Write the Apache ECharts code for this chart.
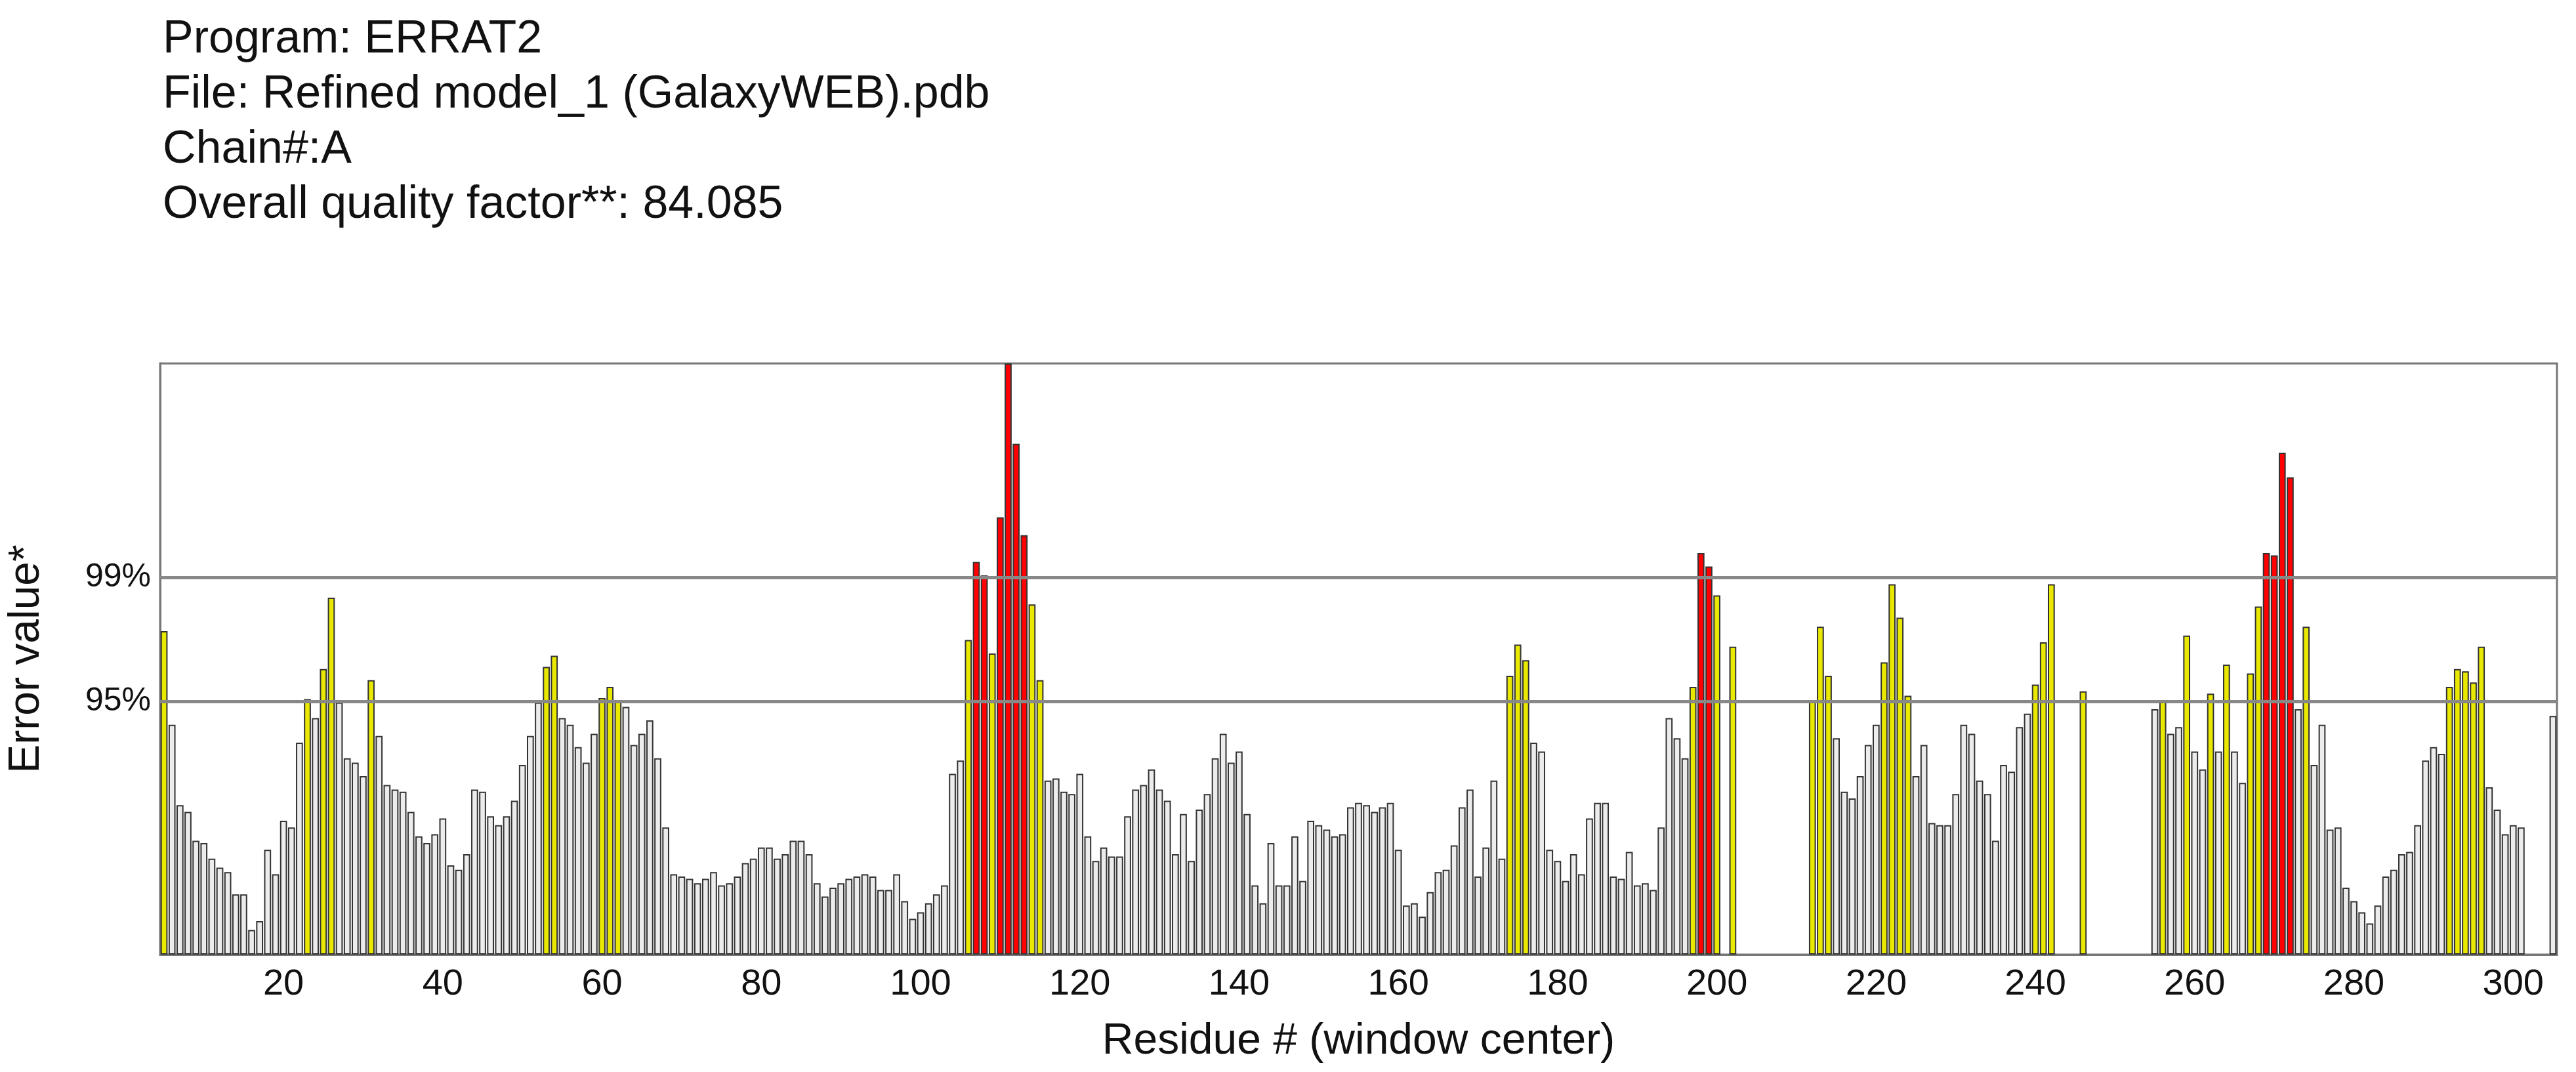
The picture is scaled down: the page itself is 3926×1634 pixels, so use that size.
<!DOCTYPE html>
<html>
<head>
<meta charset="utf-8">
<script src="https://cdn.jsdelivr.net/npm/echarts@6/dist/echarts.min.js"></script>
<style>
  html, body { margin: 0; padding: 0; background: #fff; }
  #chart { width: 3926px; height: 1634px; }
</style>
</head>
<body>
<div id="chart"></div>
<script>
// residues 5..305 (window center)
var firstResidue = 5;
var errorValues = [
  14.5, 10.3, 6.7, 6.4, 5.1, 5.0, 4.3, 3.9, 3.7, 2.7,            // 5-14
  2.7, 1.1, 1.5, 4.7, 3.6, 6.0, 5.7, 9.5, 11.45, 10.6,           // 15-24
  12.8, 16.0, 11.3, 8.8, 8.6, 8.0, 12.3, 9.8, 7.6, 7.4,          // 25-34
  7.3, 6.4, 5.3, 5.0, 5.4, 6.1, 4.0, 3.8, 4.5, 7.4,              // 35-44
  7.3, 6.2, 5.8, 6.2, 6.9, 8.5, 9.8, 11.3, 12.9, 13.4,           // 45-54
  10.6, 10.3, 9.3, 8.6, 9.9, 11.5, 12.0, 11.4, 11.1, 9.4,        // 55-64
  9.9, 10.5, 8.8, 5.7, 3.6, 3.5, 3.4, 3.2, 3.4, 3.7,             // 65-74
  3.1, 3.2, 3.5, 4.1, 4.3, 4.8, 4.8, 4.3, 4.5, 5.1,              // 75-84
  5.1, 4.5, 3.2, 2.6, 3.0, 3.2, 3.4, 3.5, 3.6, 3.5,              // 85-94
  2.9, 2.9, 3.6, 2.4, 1.6, 1.9, 2.3, 2.7, 3.1, 8.1,              // 95-104
  8.7, 14.1, 17.6, 17.0, 13.5, 19.6, 26.5, 22.9, 18.8, 15.7,     // 105-114
  12.3, 7.8, 7.9, 7.3, 7.2, 8.1, 5.3, 4.2, 4.8, 4.4,             // 115-124
  4.4, 6.2, 7.4, 7.6, 8.3, 7.4, 6.9, 4.5, 6.3, 4.2,              // 125-134
  6.5, 7.2, 8.8, 9.9, 8.6, 9.1, 6.3, 3.1, 2.3, 5.0,              // 135-144
  3.1, 3.1, 5.3, 3.3, 6.0, 5.8, 5.6, 5.3, 5.4, 6.6,              // 145-154
  6.8, 6.7, 6.4, 6.6, 6.8, 4.7, 2.2, 2.3, 1.7, 2.8,              // 155-164
  3.7, 3.8, 4.9, 6.6, 7.4, 3.5, 4.8, 7.8, 4.3, 12.5,             // 165-174
  13.9, 13.2, 9.5, 9.1, 4.7, 4.2, 3.3, 4.5, 3.6, 6.1,            // 175-184
  6.8, 6.8, 3.5, 3.4, 4.6, 3.1, 3.2, 2.9, 5.7, 10.6,             // 185-194
  9.7, 8.8, 12.0, 18.0, 17.4, 16.1, null, 13.8, null, null,      // 195-204
  null, null, null, null, null, null, null, 11.4, 14.7, 12.5,    // 205-214
  9.7, 7.3, 7.0, 8.0, 9.4, 10.3, 13.1, 16.6, 15.1, 11.6,         // 215-224
  8.0, 9.4, 5.9, 5.8, 5.8, 7.2, 10.3, 9.9, 7.8, 7.2,             // 225-234
  5.1, 8.5, 8.2, 10.2, 10.8, 12.1, 14.0, 16.6, null, null,       // 235-244
  null, 11.8, null, null, null, null, null, null, null, null,    // 245-254
  11.0, 11.4, 9.9, 10.2, 14.3, 9.1, 8.3, 11.7, 9.1, 13.0,        // 255-264
  9.1, 7.7, 12.6, 15.6, 18.0, 17.9, 22.5, 21.4, 11.0, 14.7,      // 265-274
  8.5, 10.3, 5.6, 5.7, 3.0, 2.4, 1.9, 1.4, 2.2, 3.5,             // 275-284
  3.8, 4.5, 4.6, 5.8, 8.7, 9.3, 9.0, 12.0, 12.8, 12.7,           // 285-294
  12.2, 13.8, 7.5, 6.5, 5.4, 5.8, 5.7, null, null, null,         // 295-304
  10.7                                                           // 305
];
var limit95 = 11.36;
var limit99 = 16.9;
var headerLines = [
  'Program: ERRAT2',
  'File: Refined model_1 (GalaxyWEB).pdb',
  'Chain#:A',
  'Overall quality factor**: 84.085'
];

var residues = [];
for (var i = 0; i < errorValues.length; i++) {
  residues.push(String(firstResidue + i));
}

var barData = errorValues.map(function (v) {
  var c = '#ececec';
  if (v != null && v > limit99) c = '#ff0000';
  else if (v != null && v > limit95) c = '#e8e800';
  return { value: v, itemStyle: { color: c } };
});

var chart = echarts.init(document.getElementById('chart'));
chart.setOption({
  animation: false,
  backgroundColor: '#fff',
  textStyle: { fontFamily: 'Liberation Sans, Arial, sans-serif' },
  title: {
    text: headerLines.join('\n'),
    left: 243,
    top: 14,
    textStyle: { fontSize: 70, fontWeight: 'normal', color: '#111', lineHeight: 84,
                 fontFamily: 'Liberation Sans, Arial, sans-serif' }
  },
  grid: {
    left: 241, right: 29, top: 554, bottom: 179,
    show: true, borderColor: '#777', borderWidth: 3
  },
  xAxis: {
    type: 'category',
    data: residues,
    name: 'Residue # (window center)',
    nameLocation: 'middle',
    nameGap: 100,
    nameTextStyle: { fontSize: 66, color: '#111' },
    axisLine: { lineStyle: { color: '#777', width: 3 } },
    axisTick: {
      alignWithLabel: true,
      length: 10,
      lineStyle: { color: '#777', width: 3 },
      interval: function (idx, val) { return Number(val) % 10 === 0; }
    },
    axisLabel: {
      fontSize: 56, color: '#111', margin: 18,
      interval: function (idx, val) { return Number(val) % 20 === 0; }
    }
  },
  yAxis: {
    type: 'value',
    min: 0,
    max: 26.5,
    name: 'Error value*',
    nameLocation: 'middle',
    nameGap: 170,
    nameTextStyle: { fontSize: 66, color: '#111' },
    axisLine: { show: true, lineStyle: { color: '#777', width: 3 } },
    axisTick: { show: false },
    axisLabel: { show: false },
    splitLine: { show: false }
  },
  series: [{
    type: 'bar',
    data: barData,
    barCategoryGap: '12%',
    itemStyle: { borderColor: '#333', borderWidth: 2 },
    markLine: {
      silent: true,
      symbol: 'none',
      lineStyle: { color: '#888', width: 5, type: 'solid' },
      label: { position: 'start', fontSize: 50, color: '#111', distance: 14 },
      data: [
        { yAxis: limit95, label: { formatter: '95%' } },
        { yAxis: limit99, label: { formatter: '99%' } }
      ]
    }
  }]
});
</script>
</body>
</html>
